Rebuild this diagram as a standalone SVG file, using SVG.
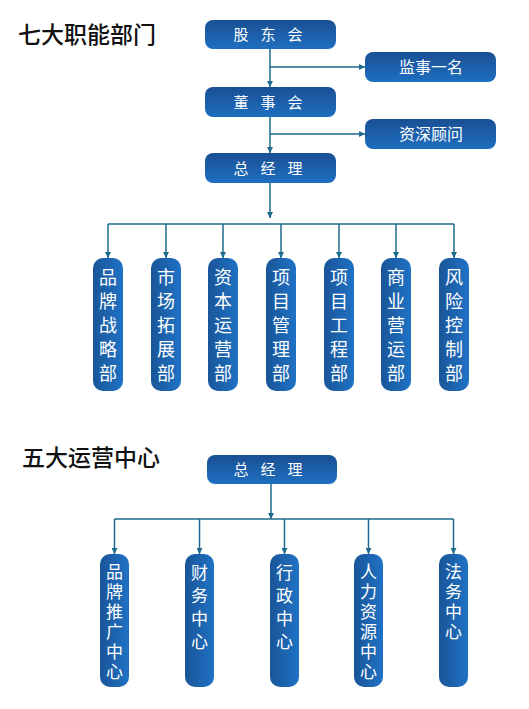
<svg xmlns="http://www.w3.org/2000/svg" width="529" height="709" viewBox="0 0 529 709">
<defs>
<linearGradient id="gH" x1="0" y1="0" x2="0" y2="1">
<stop offset="0" stop-color="#1a4f93"/>
<stop offset="1" stop-color="#1e6fc1"/>
</linearGradient>
<linearGradient id="gV" x1="0" y1="0" x2="1" y2="0">
<stop offset="0" stop-color="#1a5598"/>
<stop offset="1" stop-color="#1f72c5"/>
</linearGradient>
<marker id="arr" viewBox="0 0 10 10" refX="10" refY="5" markerWidth="6" markerHeight="6" markerUnits="userSpaceOnUse" orient="auto">
<path d="M0,0 L10,5 L0,10 z" fill="#1d6a8e"/>
</marker>
<style>
.t{font-family:"Noto Sans CJK SC","Noto Sans",sans-serif;font-size:23px;font-weight:500;fill:#111}
.bx{fill:url(#gH)}
.col{fill:url(#gV)}
.w{font-family:"Noto Sans CJK SC","Noto Sans",sans-serif;fill:#fff;text-anchor:middle}
.v{font-family:"Noto Sans CJK SC","Noto Sans",sans-serif;fill:#fff;writing-mode:vertical-rl;font-size:17px}
.s3{letter-spacing:3px}
.s6{letter-spacing:6px}
.w15{font-size:15px}
.w16{font-size:16px}
.w18{font-size:18px}
.ln{stroke:#1d6a8e;stroke-width:1.5;fill:none}
.ar{stroke:#1d6a8e;stroke-width:1.5;fill:none;marker-end:url(#arr)}
</style>
</defs>

<text class="t" x="18" y="43">七大职能部门</text>
<text class="t" x="22" y="466">五大运营中心</text>

<g id="connectors">
<line class="ar" x1="270" y1="49" x2="270" y2="87"/>
<line class="ar" x1="270" y1="67" x2="365" y2="67"/>
<line class="ar" x1="270" y1="117" x2="270" y2="153"/>
<line class="ar" x1="270" y1="134" x2="365" y2="134"/>
<line class="ar" x1="270" y1="183" x2="270" y2="218"/>
<line class="ln" x1="108" y1="224" x2="454" y2="224"/>
<line class="ar" x1="108" y1="224" x2="108" y2="258"/>
<line class="ar" x1="166" y1="224" x2="166" y2="258"/>
<line class="ar" x1="223" y1="224" x2="223" y2="258"/>
<line class="ar" x1="281" y1="224" x2="281" y2="258"/>
<line class="ar" x1="339" y1="224" x2="339" y2="258"/>
<line class="ar" x1="396" y1="224" x2="396" y2="258"/>
<line class="ar" x1="454" y1="224" x2="454" y2="258"/>

<line class="ar" x1="271" y1="484" x2="271" y2="519"/>
<line class="ln" x1="114.5" y1="519" x2="453.5" y2="519"/>
<line class="ar" x1="114.5" y1="519" x2="114.5" y2="554"/>
<line class="ar" x1="199.5" y1="519" x2="199.5" y2="554"/>
<line class="ar" x1="284.5" y1="519" x2="284.5" y2="554"/>
<line class="ar" x1="368.5" y1="519" x2="368.5" y2="554"/>
<line class="ar" x1="453.5" y1="519" x2="453.5" y2="554"/>
</g>

<g id="gudonghui">
<rect class="bx" x="205" y="20" width="131" height="29" rx="8"/>
<text class="w w15" x="241 268 295" y="40">股东会</text>
</g>
<g id="jianshi">
<rect class="bx" x="365" y="52" width="131" height="30" rx="8"/>
<text class="w w16" x="431" y="73">监事一名</text>
</g>
<g id="dongshihui">
<rect class="bx" x="205" y="87" width="131" height="30" rx="8"/>
<text class="w w15" x="241 268 295" y="108">董事会</text>
</g>
<g id="guwen">
<rect class="bx" x="365" y="119" width="131" height="30" rx="8"/>
<text class="w w16" x="431" y="140">资深顾问</text>
</g>
<g id="zongjingli1">
<rect class="bx" x="205" y="153" width="131" height="30" rx="8"/>
<text class="w w15" x="241 268 295" y="174">总经理</text>
</g>

<g id="pinpai">
<rect class="col" x="93" y="258" width="30" height="133" rx="10"/>
<text class="w w18"><tspan x="108" y="284">品</tspan><tspan x="108" y="308">牌</tspan><tspan x="108" y="332">战</tspan><tspan x="108" y="356">略</tspan><tspan x="108" y="380">部</tspan></text>
</g>
<g id="shichang">
<rect class="col" x="151" y="258" width="30" height="133" rx="10"/>
<text class="w w18"><tspan x="166" y="284">市</tspan><tspan x="166" y="308">场</tspan><tspan x="166" y="332">拓</tspan><tspan x="166" y="356">展</tspan><tspan x="166" y="380">部</tspan></text>
</g>
<g id="ziben">
<rect class="col" x="208" y="258" width="30" height="133" rx="10"/>
<text class="w w18"><tspan x="223" y="284">资</tspan><tspan x="223" y="308">本</tspan><tspan x="223" y="332">运</tspan><tspan x="223" y="356">营</tspan><tspan x="223" y="380">部</tspan></text>
</g>
<g id="xiangmuguanli">
<rect class="col" x="266" y="258" width="30" height="133" rx="10"/>
<text class="w w18"><tspan x="281" y="284">项</tspan><tspan x="281" y="308">目</tspan><tspan x="281" y="332">管</tspan><tspan x="281" y="356">理</tspan><tspan x="281" y="380">部</tspan></text>
</g>
<g id="xiangmugongcheng">
<rect class="col" x="324" y="258" width="30" height="133" rx="10"/>
<text class="w w18"><tspan x="339" y="284">项</tspan><tspan x="339" y="308">目</tspan><tspan x="339" y="332">工</tspan><tspan x="339" y="356">程</tspan><tspan x="339" y="380">部</tspan></text>
</g>
<g id="shangye">
<rect class="col" x="381" y="258" width="30" height="133" rx="10"/>
<text class="w w18"><tspan x="396" y="284">商</tspan><tspan x="396" y="308">业</tspan><tspan x="396" y="332">营</tspan><tspan x="396" y="356">运</tspan><tspan x="396" y="380">部</tspan></text>
</g>
<g id="fengxian">
<rect class="col" x="439" y="258" width="30" height="133" rx="10"/>
<text class="w w18"><tspan x="454" y="284">风</tspan><tspan x="454" y="308">险</tspan><tspan x="454" y="332">控</tspan><tspan x="454" y="356">制</tspan><tspan x="454" y="380">部</tspan></text>
</g>

<g id="zongjingli2">
<rect class="bx" x="207" y="455" width="130" height="29" rx="8"/>
<text class="w w15" x="241 268 295" y="475">总经理</text>
</g>

<g id="pinpaituiguang">
<rect class="col" x="100" y="554" width="29" height="133" rx="10"/>
<text class="v s3" x="114.5" y="563">品牌推广中心</text>
</g>
<g id="caiwu">
<rect class="col" x="185" y="554" width="29" height="133" rx="10"/>
<text class="v s6" x="199.5" y="564">财务中心</text>
</g>
<g id="xingzheng">
<rect class="col" x="270" y="554" width="29" height="133" rx="10"/>
<text class="v s6" x="284.5" y="564">行政中心</text>
</g>
<g id="renli">
<rect class="col" x="354" y="554" width="29" height="133" rx="10"/>
<text class="v s3" x="368.5" y="563">人力资源中心</text>
</g>
<g id="fawu">
<rect class="col" x="439" y="554" width="29" height="133" rx="10"/>
<text class="v s3" x="453.5" y="563">法务中心</text>
</g>
</svg>
